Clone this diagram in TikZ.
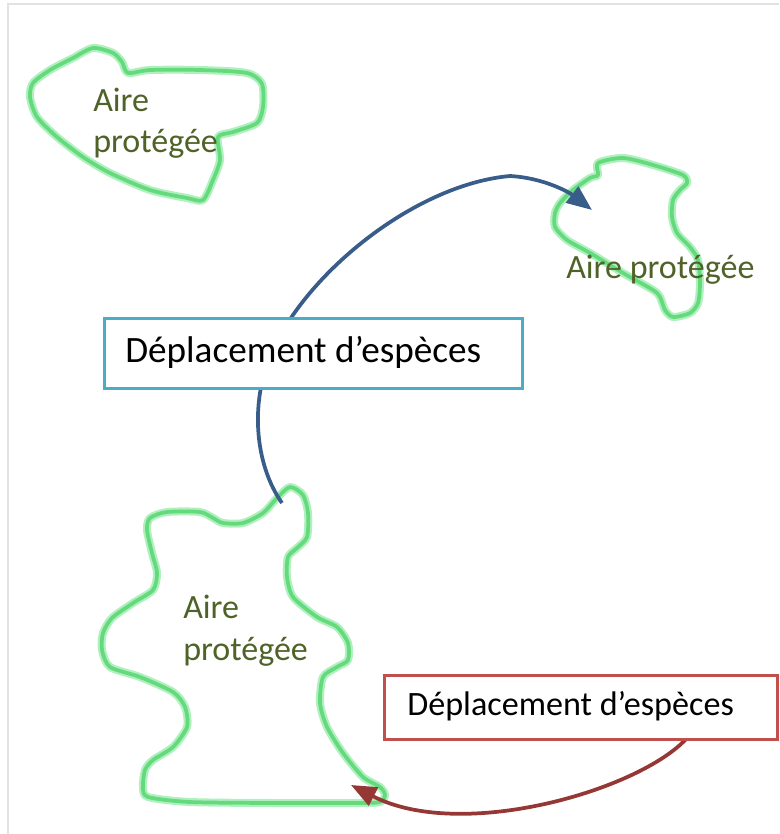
\documentclass[tikz,border=0pt]{standalone}
\usepackage{fontspec}
\setmainfont{Carlito}
\usetikzlibrary{arrows.meta}
\definecolor{blobgreen}{RGB}{100,218,125}
\definecolor{blobhalo}{RGB}{175,240,190}
\definecolor{areatext}{RGB}{79,98,40}
\definecolor{bluebox}{RGB}{75,172,198}
\definecolor{redbox}{RGB}{192,80,77}
\definecolor{bluearr}{RGB}{56,93,138}
\definecolor{redarr}{RGB}{149,55,53}
\definecolor{framegray}{RGB}{226,226,226}
\tikzset{
  halo/.style={draw=blobhalo, line width=6pt, line join=round},
  core/.style={draw=blobgreen, line width=2.8pt, line join=round},
  arealabel/.style={text=areatext, inner sep=0pt, align=left, anchor=base west,
    font=\fontsize{25.5pt}{30.8pt}\selectfont},
  movebox/.style={fill=white, line width=1.9pt, inner sep=0pt, anchor=north west},
  movetext/.style={font=\fontsize{#1}{#1}\selectfont},
  arr/.style={line width=2.8pt, -{Triangle[length=19pt,width=15pt]}},
}
\begin{document}
\begin{tikzpicture}[x=0.75pt,y=-0.75pt]
\useasboundingbox (0,0) rectangle (779,834);
% frame
\draw[framegray, line width=1.6pt] (8,834) -- (8,4) -- (779,4);
% blobs
\foreach \s in {halo,core}{
\path[\s] plot[smooth cycle, tension=0.45] coordinates {(93,48) (113,53) (122,62) (128,73) (150,70) (200,70) (247,73) (262,84) (263,107) (257,123) (233,132) (218,137) (220,160) (213,180) (203,200) (187,198) (150,190) (110,173) (83,157) (57,137) (37,117) (30,97) (33,83) (50,70) (73,58)};
\path[\s] plot[smooth cycle, tension=0.45] coordinates {(598,163) (623,158) (653,165) (683,175) (687,183) (680,190) (673,200) (672,217) (677,233) (690,247) (698,260) (700,283) (698,303) (690,313) (673,317) (665,310) (660,297) (653,290) (623,273) (590,253) (567,240) (555,227) (555,213) (560,203) (573,190) (590,178) (598,175)};
\path[\s] plot[smooth cycle, tension=0.45] coordinates {(290,487) (303,495) (308,513) (307,537) (297,548) (288,557) (287,577) (293,597) (317,617) (337,627) (348,643) (348,660) (337,667) (323,677) (320,703) (327,727) (343,753) (363,777) (380,787) (385,795) (380,802) (357,803) (273,803) (190,802) (148,797) (143,787) (145,770) (153,760) (173,747) (187,727) (185,707) (173,692) (140,677) (110,667) (102,650) (103,633) (112,618) (133,603) (153,590) (157,573) (152,553) (147,530) (150,518) (167,512) (200,512) (213,518) (223,523) (243,523) (263,513) (277,498)};
}
% area labels
\node[arealabel] (a1) at (93,153) {Aire\\protégée};
\node[arealabel] (a2) at (566,278) {Aire protégée};
\node[arealabel] (a3) at (183,660) {Aire\\protégée};
% arrow endpoints
\coordinate (bs) at (282,503);
\coordinate (bm) at (275,345);
\coordinate (bt) at (510,176);
\coordinate (be) at (592,210);
\coordinate (rs) at (687,738);
\coordinate (re) at (351,785);
% blue arrow (behind box)
\draw[arr, bluearr] (bs) .. controls (255,465) and (248,400) .. (bm)
  .. controls (315,265) and (420,184) .. (bt)
  .. controls (545,178) and (570,193) .. (be);
% blue box
\node[movebox, draw=bluebox, minimum width=418*0.75pt, minimum height=70*0.75pt] (b1) at (103,317) {};
\node[movetext=27.9pt, anchor=base west, inner sep=0pt] (t1) at (125,362) {Déplacement d’espèces};
% red arrow
\draw[arr, redarr] (rs) .. controls (640,790) and (462,842) .. (re);
% red box
\node[movebox, draw=redbox, minimum width=393*0.75pt, minimum height=64*0.75pt] (b2) at (383,674) {};
\node[movetext=25.6pt, anchor=base west, inner sep=0pt] (t2) at (407,715) {Déplacement d’espèces};
\end{tikzpicture}
\end{document}
